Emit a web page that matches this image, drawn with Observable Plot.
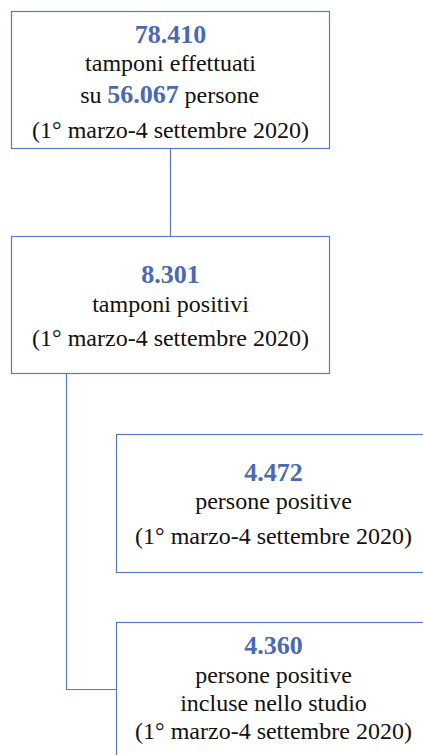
<!DOCTYPE html>
<html>
<head>
<meta charset="utf-8">
<script src="https://cdn.jsdelivr.net/npm/d3@7"></script>
<script src="https://cdn.jsdelivr.net/npm/@observablehq/plot@0.6"></script>
<style>
  html, body { margin: 0; padding: 0; background: #fff; }
  #chart svg { display: block; }
  #chart svg text { font-family: 'Liberation Serif', 'Times New Roman', serif !important; }
</style>
</head>
<body>
<div id="chart"></div>
<script>
// ---- data ----
const counts = ["78.410", "8.301", "4.472", "4.360"];
const personsTested = "56.067";
const descriptions = [
  ["tamponi effettuati"],
  ["tamponi positivi"],
  ["persone positive"],
  ["persone positive", "incluse nello studio"]
];
const period = "(1° marzo-4 settembre 2020)";

// ---- layout (diagram coordinates) ----
const W = 423, H = 755;
const boxes = [
  {x1: 11.5, x2: 329.5, y1: 11.5, y2: 148.5, cx: 170},
  {x1: 11.5, x2: 329.5, y1: 236.5, y2: 373.5, cx: 170},
  {x1: 116.5, x2: 430, y1: 434.5, y2: 572.5, cx: 273},
  {x1: 116.5, x2: 430, y1: 622.5, y2: 780, cx: 273}
];
// baselines for each line in each box: [count, ...desc, period]
const baselines = [
  [42, 70, 102, 137],
  [282, 311, 345],
  [480, 508, 543],
  [653, 682, 710, 738]
];

const blue = "#4a68b3";
const border = "#5a78c2";
const font = "'Liberation Serif', 'Times New Roman', serif";
const bodySize = 24;

const numRows = [], txtRows = [];
boxes.forEach((b, i) => {
  const bl = baselines[i];
  numRows.push({x: b.cx, y: bl[0], t: counts[i]});
  descriptions[i].forEach((d, j) => {
    if (i === 0) return; // box 1 handled separately
    txtRows.push({x: b.cx, y: bl[1 + j], t: d});
  });
  txtRows.push({x: b.cx, y: bl[bl.length - 1], t: period});
});
txtRows.push({x: boxes[0].cx, y: baselines[0][1], t: descriptions[0][0]});
const suRow = [{x: 101, y: baselines[0][2], t: "su"}];
const personeRow = [{x: 184, y: baselines[0][2], t: "persone"}];
const personsNum = [{x: 142.5, y: baselines[0][2], t: personsTested}];

const links = [
  [{x: 170, y: 148.5}, {x: 170, y: 236.5}],
  [{x: 66, y: 373.5}, {x: 66, y: 689}, {x: 116.5, y: 689}]
];

const chart = Plot.plot({
  width: W,
  height: H,
  margin: 0,
  x: {type: "linear", domain: [0, W], range: [0, W], axis: null},
  y: {type: "linear", domain: [0, H], range: [0, H], axis: null},
  style: {background: "#fff", fontFamily: font},
  marks: [
    ...links.map(l => Plot.line(l, {x: "x", y: "y", stroke: border, strokeWidth: 1.2})),
    Plot.rect(boxes, {x1: "x1", x2: "x2", y1: "y1", y2: "y2", fill: "#fff", stroke: border, strokeWidth: 1.2}),
    Plot.text(numRows, {x: "x", y: "y", text: "t", fill: blue, fontWeight: "bold", fontSize: 26, fontFamily: font, lineAnchor: "bottom", textAnchor: "middle"}),
    Plot.text(personsNum, {x: "x", y: "y", text: "t", fill: blue, fontWeight: "bold", fontSize: 26, fontFamily: font, lineAnchor: "bottom", textAnchor: "middle"}),
    Plot.text(txtRows, {x: "x", y: "y", text: "t", fill: "#111", fontSize: bodySize, fontFamily: font, lineAnchor: "bottom", textAnchor: "middle"}),
    Plot.text(suRow, {x: "x", y: "y", text: "t", fill: "#111", fontSize: bodySize, fontFamily: font, lineAnchor: "bottom", textAnchor: "end"}),
    Plot.text(personeRow, {x: "x", y: "y", text: "t", fill: "#111", fontSize: bodySize, fontFamily: font, lineAnchor: "bottom", textAnchor: "start"})
  ]
});
document.getElementById("chart").appendChild(chart);
</script>
</body>
</html>
